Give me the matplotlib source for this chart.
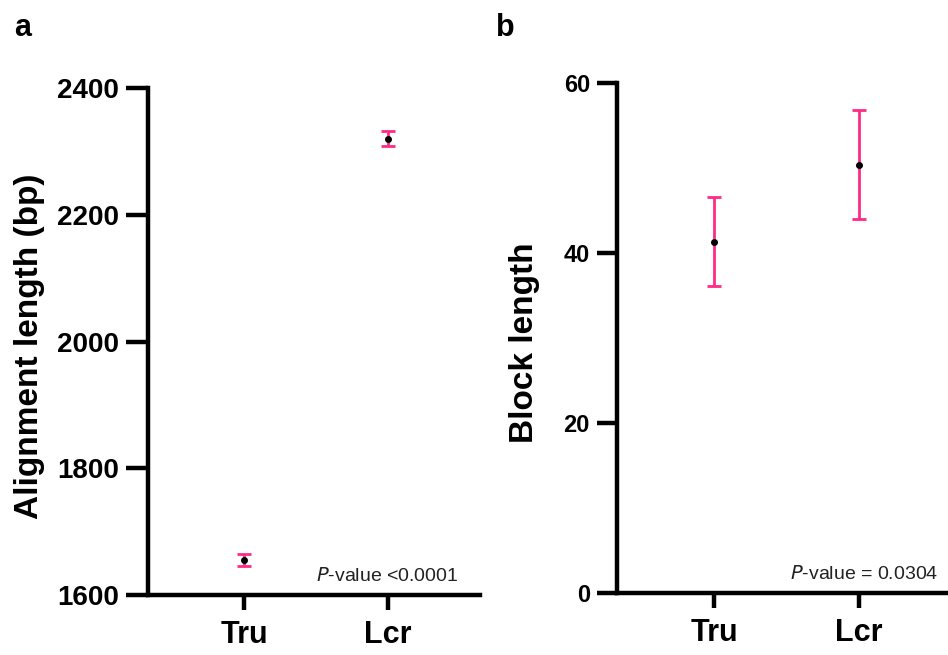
import matplotlib
matplotlib.use("Agg")
import matplotlib.pyplot as plt

categories = ["Tru", "Lcr"]
align_mean = [1655, 2320]
align_err = [10, 12]
block_mean = [41.3, 50.4]
block_lo = [36.1, 44.0]
block_hi = [46.6, 56.8]

plt.rcParams['font.family'] = ['Liberation Sans', 'DejaVu Sans']
pink = '#ff2a85'

fig = plt.figure(figsize=(9.48, 6.55), dpi=100)
axa = fig.add_axes([0.1561, 0.0916, 0.5063 - 0.1561, 0.8656 - 0.0916])
axb = fig.add_axes([0.6508, 0.0947, 1.0 - 0.6508, 0.8733 - 0.0947])

def style(ax, ylab, ylen):
    for s in ['top', 'right']:
        ax.spines[s].set_visible(False)
    for s in ['left', 'bottom']:
        ax.spines[s].set_linewidth(3.2)
    ax.tick_params(axis='y', length=ylen, width=3.2, labelsize=ylab, pad=5)
    ax.tick_params(axis='x', length=11, width=3.2, labelsize=22, pad=7)
    for lab in ax.get_yticklabels() + ax.get_xticklabels():
        lab.set_fontweight('bold')

x = list(range(len(categories)))

# Panel a
axa.errorbar(x, align_mean, yerr=align_err, fmt='o', color='black', ms=4,
             ecolor=pink, elinewidth=2, capsize=5, capthick=2, zorder=3)
axa.set_ylim(1600, 2400)
axa.set_yticks([1600, 1800, 2000, 2200, 2400])
axa.set_xlim(-0.667, 1.639)
axa.set_xticks(x)
axa.set_xticklabels(categories)
axa.set_ylabel('Alignment length (bp)', fontsize=24, fontweight='bold')
axa.yaxis.set_label_coords(-0.31, 0.49)
style(axa, 20, 16)
axa.text(0.934, 0.02, r'$\it{P}$-value <0.0001', transform=axa.transAxes,
         ha='right', va='bottom', fontsize=14, color='#222222')

# Panel b
lo = [m - l for m, l in zip(block_mean, block_lo)]
hi = [h - m for m, h in zip(block_mean, block_hi)]
axb.errorbar(x, block_mean, yerr=[lo, hi], fmt='o', color='black', ms=4,
             ecolor=pink, elinewidth=2, capsize=5, capthick=2, zorder=3)
axb.set_ylim(0, 60)
axb.set_yticks([0, 20, 40, 60])
axb.set_xlim(-0.669, 1.614)
axb.set_xticks(x)
axb.set_xticklabels(categories)
axb.set_ylabel('Block length', fontsize=24, fontweight='bold')
axb.yaxis.set_label_coords(-0.233, 0.49)
style(axb, 17, 14.5)
axb.text(0.971, 0.02, r'$\it{P}$-value = 0.0304', transform=axb.transAxes,
         ha='right', va='bottom', fontsize=14, color='#222222')

fig.text(0.015, 0.958, 'a', fontsize=22, fontweight='bold', va='center')
fig.text(0.523, 0.958, 'b', fontsize=22, fontweight='bold', va='center')

fig.savefig('out.png', dpi=100)
